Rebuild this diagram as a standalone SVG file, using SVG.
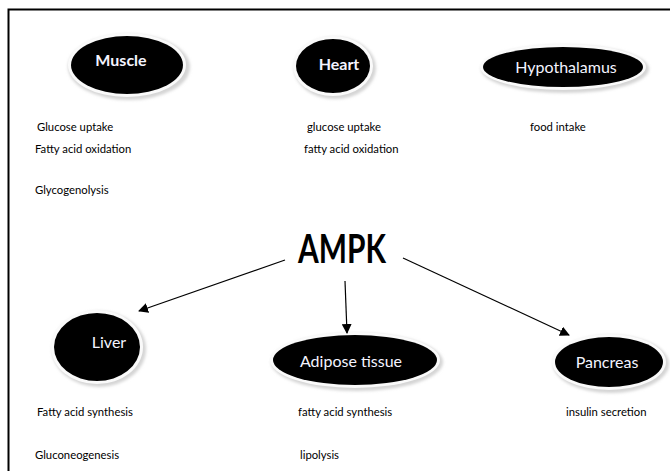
<svg xmlns="http://www.w3.org/2000/svg" width="670" height="471" viewBox="0 0 670 471">
  <defs>
    <filter id="soft" x="-20%" y="-30%" width="140%" height="160%">
      <feGaussianBlur stdDeviation="1.5"/>
    </filter>
    <marker id="arrow" viewBox="0 0 10 10" refX="9" refY="5" markerWidth="10" markerHeight="10" markerUnits="userSpaceOnUse" orient="auto">
      <path d="M0,0 L10,5 L0,10 Z" fill="#000"/>
    </marker>
  </defs>
  <style>
    .halo { fill: #d4d4d4; filter: url(#soft); }
    .rim { fill: #fafafa; }
    .body { fill: #000; }
    .label { font-family: Lato, "Open Sans", sans-serif; font-size: 16px; fill: #f4f4ff; text-anchor: middle; }
    .bold { font-weight: bold; }
    .note { font-family: Lato, "Open Sans", sans-serif; font-size: 11.3px; fill: #000; }
    .link { stroke: #000; stroke-width: 1.2; fill: none; marker-end: url(#arrow); }
  </style>

  <rect width="670" height="471" fill="#fff"/>
  <!-- page frame: top and left edges only -->
  <path d="M8.5,471 V9.5 H670" fill="none" stroke="#000" stroke-width="2"/>

  <!-- node: Muscle -->
  <g id="muscle">
    <ellipse class="halo" cx="129" cy="67" rx="61" ry="33"/>
    <ellipse class="rim" cx="127" cy="65" rx="59" ry="32"/>
    <ellipse class="body" cx="127" cy="65" rx="56" ry="29"/>
    <text class="label bold" x="121" y="66">Muscle</text>
  </g>

  <!-- node: Heart -->
  <g id="heart">
    <ellipse class="halo" cx="335" cy="68" rx="41" ry="31"/>
    <ellipse class="rim" cx="333" cy="66" rx="40" ry="30"/>
    <ellipse class="body" cx="333" cy="66" rx="37" ry="27"/>
    <text class="label bold" x="339" y="70">Heart</text>
  </g>

  <!-- node: Hypothalamus -->
  <g id="hypothalamus">
    <ellipse class="halo" cx="565" cy="69" rx="84" ry="24"/>
    <ellipse class="rim" cx="563" cy="67" rx="83" ry="23"/>
    <ellipse class="body" cx="563" cy="67" rx="80" ry="20"/>
    <text class="label" x="566" y="73">Hypothalamus</text>
  </g>

  <!-- node: Liver -->
  <g id="liver">
    <ellipse class="halo" cx="99" cy="349" rx="47" ry="38"/>
    <ellipse class="rim" cx="97" cy="347" rx="46" ry="37"/>
    <ellipse class="body" cx="97" cy="347" rx="43" ry="34"/>
    <text class="label" x="109" y="348">Liver</text>
  </g>

  <!-- node: Adipose tissue -->
  <g id="adipose">
    <ellipse class="halo" cx="357" cy="362" rx="86" ry="29"/>
    <ellipse class="rim" cx="355" cy="360" rx="85" ry="28"/>
    <ellipse class="body" cx="355" cy="360" rx="82" ry="25"/>
    <text class="label" x="351" y="367">Adipose tissue</text>
  </g>

  <!-- node: Pancreas -->
  <g id="pancreas">
    <ellipse class="halo" cx="611" cy="364" rx="58" ry="29"/>
    <ellipse class="rim" cx="609" cy="362" rx="57" ry="28"/>
    <ellipse class="body" cx="609" cy="362" rx="54" ry="25"/>
    <text class="label" x="607" y="368">Pancreas</text>
  </g>

  <!-- node: AMPK hub -->
  <g id="ampk">
    <text x="298" y="263" font-family="Lato, 'Open Sans', sans-serif" font-size="40" font-weight="bold" fill="#000" textLength="88" lengthAdjust="spacingAndGlyphs">AMPK</text>
  </g>

  <!-- connectors -->
  <g id="connectors">
    <line class="link" x1="285" y1="260" x2="139" y2="311"/>
    <line class="link" x1="345" y1="281" x2="347" y2="333"/>
    <line class="link" x1="403" y1="258" x2="569" y2="335"/>
  </g>

  <!-- effects listed under each tissue -->
  <g id="effects">
    <text class="note" x="37" y="131">Glucose uptake</text>
    <text class="note" x="35" y="153">Fatty acid oxidation</text>
    <text class="note" x="35" y="194">Glycogenolysis</text>
    <text class="note" x="307" y="131">glucose uptake</text>
    <text class="note" x="304" y="153">fatty acid oxidation</text>
    <text class="note" x="530" y="131">food intake</text>
    <text class="note" x="37" y="416">Fatty acid synthesis</text>
    <text class="note" x="35" y="459">Gluconeogenesis</text>
    <text class="note" x="298" y="416">fatty acid synthesis</text>
    <text class="note" x="300" y="459">lipolysis</text>
    <text class="note" x="566" y="416">insulin secretion</text>
  </g>
</svg>
